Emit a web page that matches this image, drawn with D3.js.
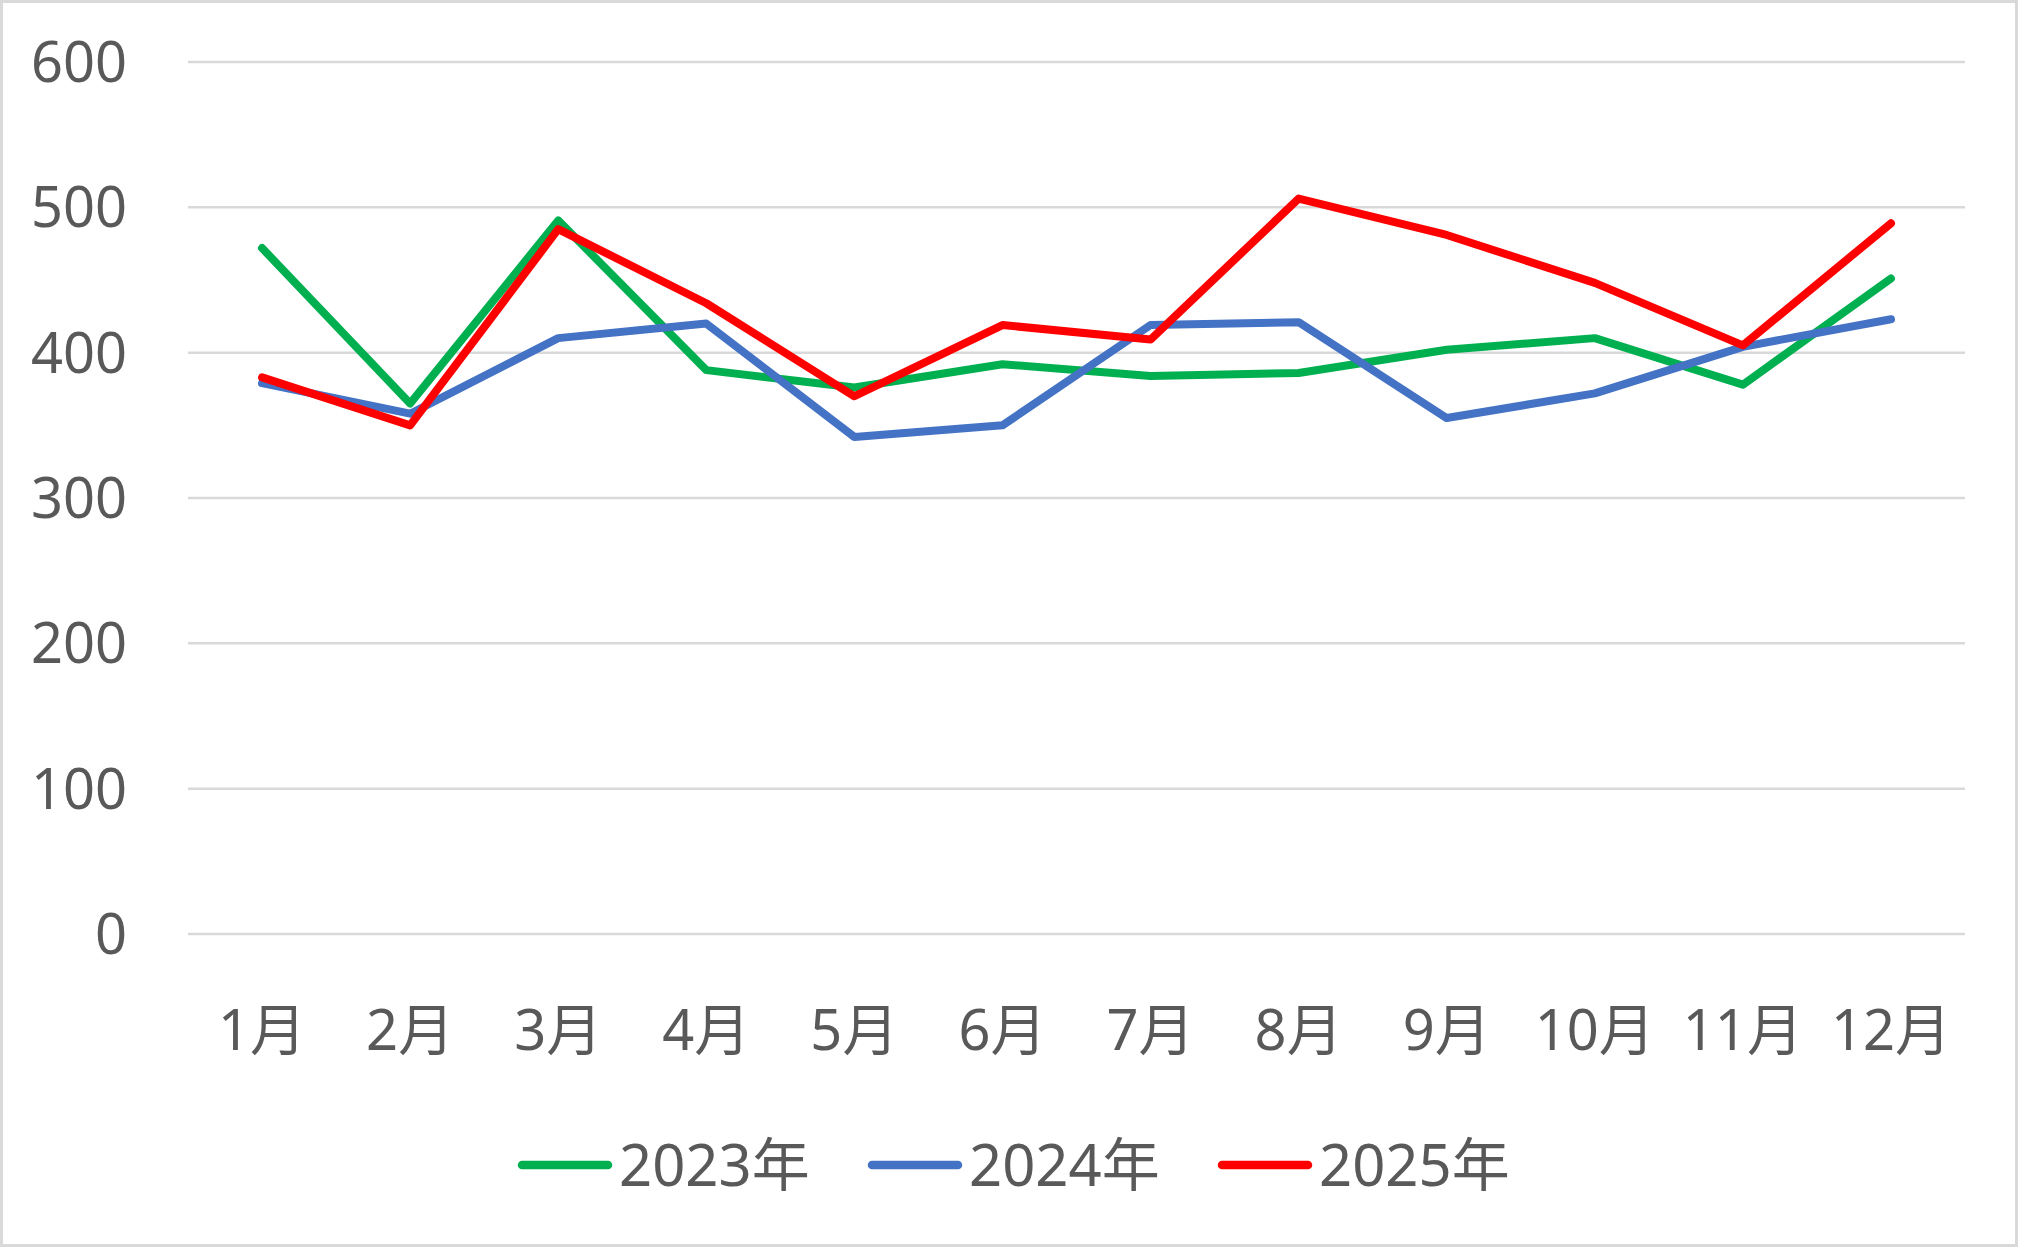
<!DOCTYPE html>
<html>
<head>
<meta charset="utf-8">
<script src="https://cdn.jsdelivr.net/npm/d3@7"></script>
<style>
  html, body { margin: 0; padding: 0; background: #fff; }
  svg { display: block; }
</style>
</head>
<body>
<div id="chart"></div>
<script>
// data
var months = ["1月", "2月", "3月", "4月", "5月", "6月", "7月", "8月", "9月", "10月", "11月", "12月"];
var seriesNames = ["2023年", "2024年", "2025年"];
var seriesColors = ["#00B050", "#4472C4", "#FF0000"];
var values2023 = [472, 365, 491, 388, 376, 392, 384, 386, 402, 410, 378, 451];
var values2024 = [379, 358, 410, 420, 342, 350, 419, 421, 355, 372, 404, 423];
var values2025 = [383, 350, 485, 434, 370, 419, 409, 506, 481, 448, 405, 489];
var yTicks = [0, 100, 200, 300, 400, 500, 600];

var width = 2018, height = 1247;
var font = "'Noto Sans', 'Noto Sans CJK SC', sans-serif";
var textColor = "#595959";

var svg = d3.select("#chart").append("svg")
    .attr("width", width)
    .attr("height", height);

// outer chart border
svg.append("rect")
    .attr("x", 1.5).attr("y", 1.5)
    .attr("width", width - 3).attr("height", height - 3)
    .attr("fill", "#fff")
    .attr("stroke", "#d9d9d9")
    .attr("stroke-width", 3);

var plot = { left: 188, right: 1965, top: 62, bottom: 934 };

var x = d3.scalePoint()
    .domain(months)
    .range([plot.left, plot.right])
    .padding(0.5);

var y = d3.scaleLinear()
    .domain([0, 600])
    .range([plot.bottom, plot.top]);

// gridlines
svg.append("g").selectAll("line")
    .data(yTicks)
    .enter().append("line")
    .attr("x1", plot.left).attr("x2", plot.right)
    .attr("y1", function (d) { return y(d); })
    .attr("y2", function (d) { return y(d); })
    .attr("stroke", "#d9d9d9")
    .attr("stroke-width", 2.5);

// y labels
svg.append("g").selectAll("text")
    .data(yTicks)
    .enter().append("text")
    .attr("x", 127)
    .attr("y", function (d) { return y(d); })
    .attr("dy", "0.36em")
    .attr("text-anchor", "end")
    .attr("font-family", font)
    .attr("font-size", 56)
    .attr("fill", textColor)
    .text(function (d) { return d; });

// x labels
svg.append("g").selectAll("text")
    .data(months)
    .enter().append("text")
    .attr("x", function (d) { return x(d); })
    .attr("y", 1030)
    .attr("dy", "0.36em")
    .attr("text-anchor", "middle")
    .attr("font-family", font)
    .attr("font-size", 56)
    .attr("fill", textColor)
    .text(function (d) { return d; });

// lines
var allSeries = [values2023, values2024, values2025];
var line = d3.line()
    .x(function (d, i) { return x(months[i]); })
    .y(function (d) { return y(d); });

svg.append("g").selectAll("path")
    .data(allSeries)
    .enter().append("path")
    .attr("d", line)
    .attr("fill", "none")
    .attr("stroke", function (d, i) { return seriesColors[i]; })
    .attr("stroke-width", 8)
    .attr("stroke-linejoin", "round")
    .attr("stroke-linecap", "round");

// legend
var legend = svg.append("g").selectAll("g")
    .data(seriesNames)
    .enter().append("g")
    .attr("transform", function (d, i) { return "translate(" + (522 + i * 350) + ",1165)"; });

legend.append("line")
    .attr("x1", 0).attr("x2", 86)
    .attr("y1", 0).attr("y2", 0)
    .attr("stroke", function (d, i) { return seriesColors[i]; })
    .attr("stroke-width", 8.5)
    .attr("stroke-linecap", "round");

legend.append("text")
    .attr("x", 97)
    .attr("y", 0)
    .attr("dy", "0.36em")
    .attr("font-family", font)
    .attr("font-size", 58)
    .attr("fill", textColor)
    .text(function (d) { return d; });
</script>
</body>
</html>
